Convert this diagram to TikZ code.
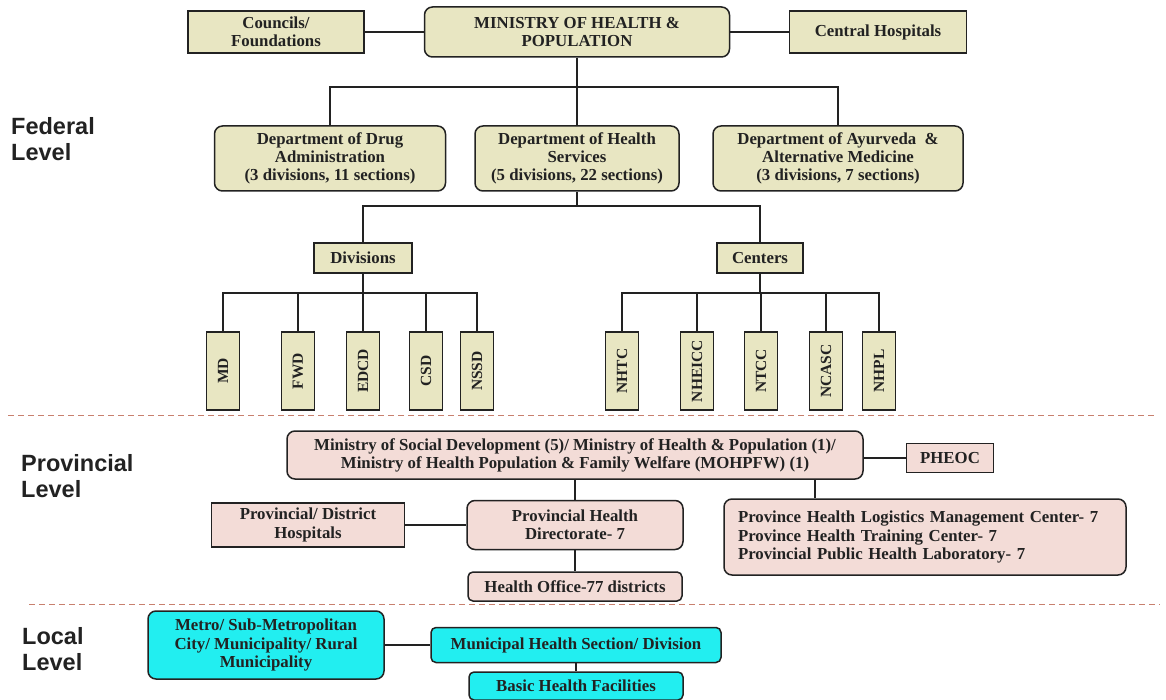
\documentclass[tikz,border=0pt]{standalone}
\usepackage{fontspec}
\usepackage{graphicx}
\setmainfont{Liberation Serif}
\newfontfamily\lvlfont{Liberation Sans}
\definecolor{fedfill}{HTML}{E8E6C2}
\definecolor{provfill}{HTML}{F3DCD7}
\definecolor{locfill}{HTML}{22EEF0}
\definecolor{inkgray}{HTML}{222222}
\definecolor{cutline}{HTML}{C8806E}
\begin{document}
\begin{tikzpicture}[x=1pt,y=-1pt,
  box/.style={draw=inkgray,line width=1.5pt,text=inkgray,inner sep=0pt,align=center,
    font=\fontsize{16.8}{18.2}\selectfont\bfseries},
  wh/.style 2 args={minimum width=#1pt,minimum height=#2pt},
  fed/.style={box,fill=fedfill,rounded corners=8pt},
  fedsq/.style={box,fill=fedfill},
  prov/.style={box,fill=provfill,rounded corners=8pt},
  provsq/.style={box,fill=provfill},
  loc/.style={box,fill=locfill,rounded corners=8pt},
  vb/.style={fedsq,wh={33}{78},font=\fontsize{15.5}{15.5}\selectfont\bfseries},
  wire/.style={draw=inkgray,line width=1.5pt},
  cut/.style={draw=cutline,line width=1pt,dash pattern=on 6pt off 4pt},
  lvl/.style={anchor=west,align=left,inner sep=0pt,text=inkgray,
    font=\lvlfont\fontsize{23.5}{26}\selectfont\bfseries}]
\fill[white] (0,0) rectangle (1166,700);
\useasboundingbox (0,0) rectangle (1166,700);

% level labels
\node[lvl] (fedlvl) at (11,139.5) {Federal\\Level};
\node[lvl] (provlvl) at (21,476) {Provincial\\Level};
\node[lvl] (loclvl) at (22,649.5) {Local\\Level};

% federal
\node[fedsq,wh={176}{42}] (cou) at (276,32) {Councils/\\Foundations};
\node[fed,wh={305}{50}] (moh) at (577,32) {MINISTRY OF HEALTH \&\\POPULATION};
\node[fedsq,wh={177}{42}] (cen) at (878,32) {Central Hospitals};
\draw[wire] (cou) -- (moh);
\draw[wire] (moh) -- (cen);

\node[fed,wh={231}{65}] (dda) at (330,158.5) {Department of Drug\\Administration\\(3 divisions, 11 sections)};
\node[fed,wh={204}{65}] (dhs) at (577,158.5) {Department of Health\\Services\\(5 divisions, 22 sections)};
\node[fed,wh={250}{65}] (dam) at (838,158.5) {Department of Ayurveda \ \&\\Alternative Medicine\\(3 divisions, 7 sections)};
\coordinate (fb) at (577,87);
\draw[wire] (moh) -- (fb);
\draw[wire] (dda.north) |- (fb) -| (dam.north);
\draw[wire] (fb) -- (dhs.north);

\node[fedsq,wh={98}{30}] (div) at (363,258) {Divisions};
\node[fedsq,wh={86}{30}] (ctr) at (760,258) {Centers};
\coordinate (hb) at (577,206);
\draw[wire] (dhs) -- (hb);
\draw[wire] (div.north) |- (hb) -| (ctr.north);

\foreach \nm/\xx/\lab in {md/223/MD,fwd/298/FWD,edcd/363/EDCD,csd/426/CSD,nssd/477/NSSD}
  \node[vb] (\nm) at (\xx,371) {\rotatebox{90}{\lab}};
\coordinate (db) at (363,293);
\draw[wire] (div) -- (db);
\foreach \nm in {md,fwd,edcd,csd,nssd}
  \draw[wire] (db) -| (\nm.north);

\foreach \nm/\xx/\lab in {nhtc/622/NHTC,nheicc/697/NHEICC,ntcc/761/NTCC,ncasc/826/NCASC,nhpl/879/NHPL}
  \node[vb] (\nm) at (\xx,371) {\rotatebox{90}{\lab}};
\coordinate (cb) at (760,293);
\draw[wire] (ctr) -- (cb);
\foreach \nm in {nhtc,nheicc,ntcc,ncasc,nhpl}
  \draw[wire] (cb) -| (\nm.north);

\draw[cut] (8,415) -- (1155,415);

% provincial
\node[prov,wh={576}{48}] (msd) at (575,455) {Ministry of Social Development (5)/ Ministry of Health \& Population (1)/\\Ministry of Health Population \& Family Welfare (MOHPFW) (1)};
\node[provsq,wh={87}{29}] (phe) at (950,458) {PHEOC};
\draw[wire] (phe.west) -- (phe.west -| msd.east);

\node[provsq,wh={193}{44}] (pdh) at (308,525) {Provincial/ District\\Hospitals};
\node[prov,wh={216}{49}] (phd) at (575,525) {Provincial Health\\Directorate- 7};
\node[prov,wh={214}{29},rounded corners=5pt] (hof) at (575,586.5) {Health Office-77 districts};
\draw[wire] (msd) -- (phd);
\draw[wire] (pdh) -- (phd);
\draw[wire] (phd) -- (hof);

\node[prov,wh={402}{76},align=left,text width=374pt,inner xsep=14pt] (plm) at (925,537)
  {Province Health Logistics Management Center- 7\\Province Health Training Center- 7\\Provincial Public Health Laboratory- 7};
\path (msd.south) ++(240,0) coordinate (pv);
\draw[wire] (pv) -- (pv |- plm.north);

\draw[cut] (29,604) -- (1160,604);

% local
\node[loc,wh={236}{68}] (met) at (266,645) {Metro/ Sub-Metropolitan\\City/ Municipality/ Rural\\Municipality};
\node[loc,wh={290}{35},rounded corners=5pt] (mhs) at (576,645) {Municipal Health Section/ Division};
\node[loc,wh={214}{28},rounded corners=5pt] (bhf) at (576,686) {Basic Health Facilities};
\draw[wire] (met) -- (mhs);
\draw[wire] (mhs) -- (bhf);
\end{tikzpicture}
\end{document}
